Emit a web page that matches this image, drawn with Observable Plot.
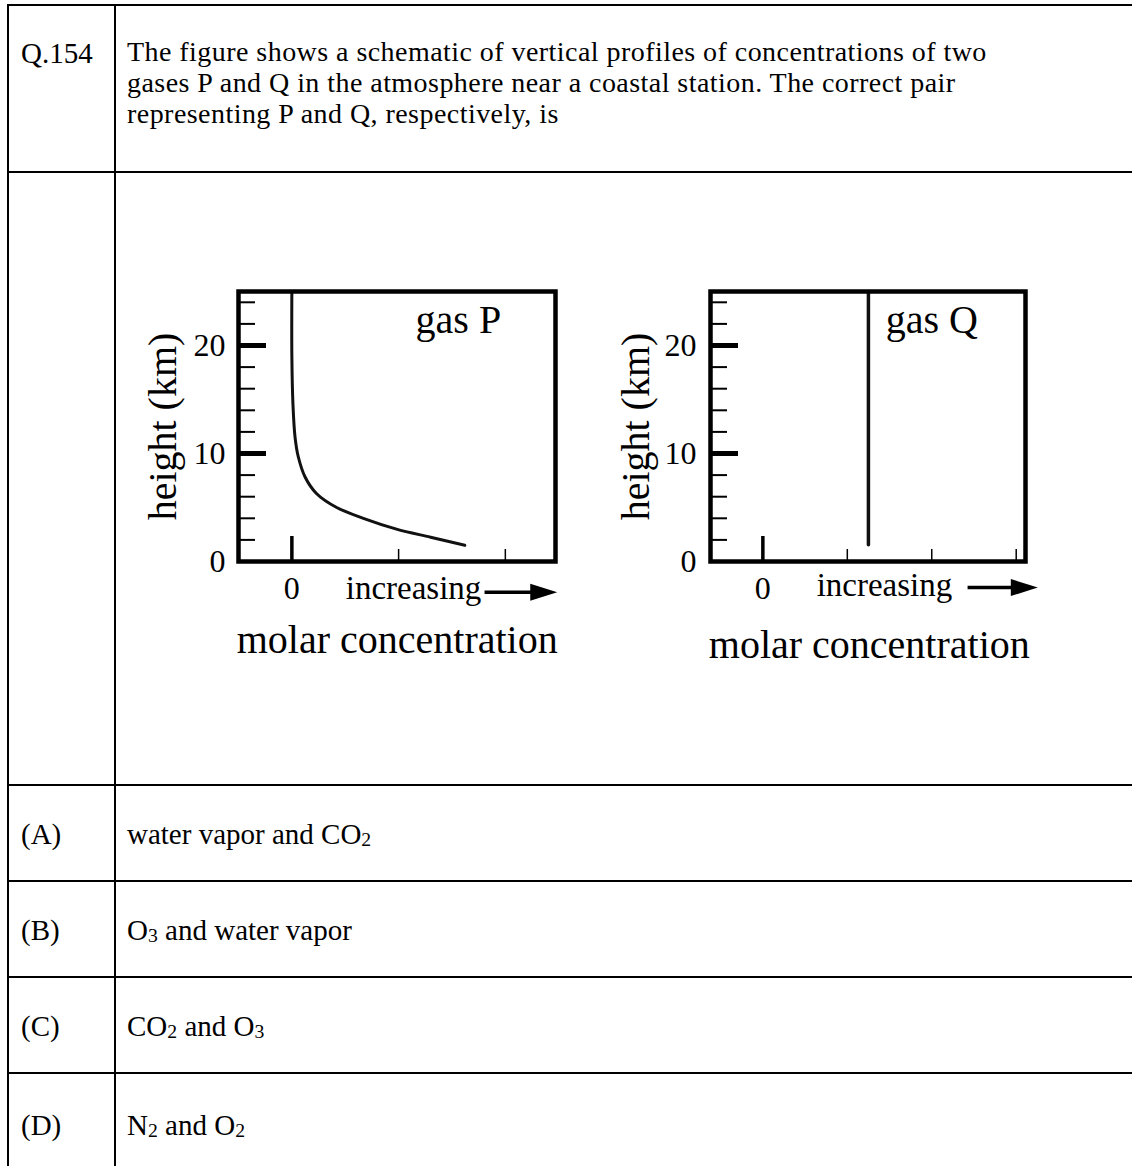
<!DOCTYPE html>
<html><head><meta charset="utf-8">
<script src="https://cdn.jsdelivr.net/npm/d3@7"></script>
<script src="https://cdn.jsdelivr.net/npm/@observablehq/plot@0.6"></script>
<style>
body{margin:0;background:#fff;width:1132px;height:1166px;position:relative;overflow:hidden;font-family:"Liberation Serif","Times New Roman",serif;color:#000}
.h{position:absolute;left:7px;right:0;height:2px;background:#000}
.v{position:absolute;top:4px;bottom:0;width:2px;background:#000}
.t{position:absolute;font-size:29px;line-height:28px;height:28px;white-space:nowrap}
.q{position:absolute;font-size:28px;line-height:31px;height:31px;white-space:nowrap;letter-spacing:0.45px}
sub{font-size:0.68em;vertical-align:-0.12em;line-height:0}
.chart{position:absolute}
</style></head><body>
<div class="h" style="top:4px"></div>
<div class="h" style="top:171px"></div>
<div class="h" style="top:784px"></div>
<div class="h" style="top:880px"></div>
<div class="h" style="top:976px"></div>
<div class="h" style="top:1072px"></div>
<div class="v" style="left:7px"></div>
<div class="v" style="left:114px"></div>

<div class="t" style="left:21px;top:39px">Q.154</div>
<div class="q" style="left:127px;top:36px">The figure shows a schematic of vertical profiles of concentrations of two</div>
<div class="q" style="left:127px;top:67px">gases P and Q in the atmosphere near a coastal station. The correct pair</div>
<div class="q" style="left:127px;top:98px">representing P and Q, respectively, is</div>

<div class="t" style="left:21px;top:820px">(A)</div>
<div class="t" style="left:127px;top:820px">water vapor and CO<sub>2</sub></div>
<div class="t" style="left:21px;top:916px">(B)</div>
<div class="t" style="left:127px;top:916px">O<sub>3</sub> and water vapor</div>
<div class="t" style="left:21px;top:1012px">(C)</div>
<div class="t" style="left:127px;top:1012px">CO<sub>2</sub> and O<sub>3</sub></div>
<div class="t" style="left:21px;top:1111px">(D)</div>
<div class="t" style="left:127px;top:1111px">N<sub>2</sub> and O<sub>2</sub></div>

<div id="chartP" class="chart" style="left:120px;top:270px"></div>
<div id="chartQ" class="chart" style="left:600px;top:270px"></div>

<script>
// ---- data ----
const heightP = [25, 19, 14.6, 11.5, 9.7, 7.8, 6.3, 5.0, 4.0, 3.0, 2.25, 1.5];
const concP   = [0, 0, 0.01, 0.03, 0.06, 0.125, 0.23, 0.42, 0.67, 0.98, 1.30, 1.62];
const heightQ = [25, 1.55];
const concQ   = [1.25, 1.25];

const yLabelTicks = [0, 10, 20];
const yMajorTicks = [10, 20];
const yMinorTicks = [2, 4, 6, 8, 12, 14, 16, 18, 22, 24];
const xZeroTick = [0];
const xMinorTicksP = [1, 2];
const xMinorTicksQ = [1, 2, 3];
const xLabelTicks = [0];
const panelLabels = ["gas P", "gas Q"];
const xAxisTitle = "molar concentration";
const yAxisTitle = "height (km)";
const xDirection = "increasing";

const arrowHead = {draw(ctx) { ctx.moveTo(14, 0); ctx.lineTo(-13, -8.5); ctx.lineTo(-13, 8.5); ctx.closePath(); }};

function makeChart(cfg) {
  const W = 450, H = 400;
  const innerW = W - cfg.marginLeft - cfg.marginRight;
  const innerH = H - cfg.marginTop - cfg.marginBottom;
  return Plot.plot({
    width: W, height: H,
    marginLeft: cfg.marginLeft, marginRight: cfg.marginRight,
    marginTop: cfg.marginTop, marginBottom: cfg.marginBottom,
    x: {domain: cfg.xDomain},
    y: {domain: [0, 25]},
    style: {background: "transparent", fontFamily: "'Liberation Serif', 'Times New Roman', serif", color: "#000", overflow: "visible"},
    marks: [
      Plot.tickY(yMinorTicks, {y: d => d, insetRight: innerW - 17, strokeWidth: 2}),
      Plot.tickY(yMajorTicks, {y: d => d, insetRight: innerW - 28, strokeWidth: 5}),
      Plot.tickX(xZeroTick, {x: d => d, insetTop: innerH - 25, strokeWidth: 3.5}),
      Plot.tickX(cfg.xMinor, {x: d => d, insetTop: innerH - 12, strokeWidth: 1.5}),
      Plot.line(cfg.data, {x: "c", y: "h", curve: "catmull-rom", strokeWidth: cfg.lineWidth, stroke: "#111"}),
      Plot.frame({strokeWidth: 4.5}),
      Plot.axisY({ticks: yLabelTicks, tickFormat: d => String(d), tickSize: 0, tickPadding: cfg.yPad, fontSize: 32, label: null}),
      Plot.axisX({ticks: xLabelTicks, tickFormat: d => String(d), tickSize: 0, tickPadding: 15, fontSize: 32, label: null}),
      Plot.text([cfg.label], {x: cfg.labelX, frameAnchor: "top", dy: 29, text: d => d, fontSize: 40, lineAnchor: "middle"}),
      Plot.text([xDirection], {x: cfg.incX, frameAnchor: "bottom", dy: cfg.incDy, text: d => d, fontSize: 33, lineAnchor: "middle"}),
      Plot.ruleY([cfg.arrowY], {y: d => d, x1: cfg.arrowX1, x2: cfg.arrowX2, strokeWidth: 3.5}),
      Plot.dot([cfg.arrowY], {x: cfg.headX, y: d => d, symbol: arrowHead, fill: "#000", stroke: "none"}),
      Plot.text([xAxisTitle], {x: cfg.titleX, frameAnchor: "bottom", dy: cfg.titleDy, text: d => d, fontSize: 40, lineAnchor: "middle"}),
      Plot.text([yAxisTitle], {frameAnchor: "left", dx: cfg.yTitleDx, rotate: -90, text: d => d, fontSize: 40, textAnchor: "middle", lineAnchor: "middle"})
    ]
  });
}

const dataP = heightP.map((h, i) => ({h, c: concP[i]}));
const dataQ = heightQ.map((h, i) => ({h, c: concQ[i]}));

document.getElementById("chartP").appendChild(makeChart({
  marginLeft: 118, marginRight: 15, marginTop: 21, marginBottom: 109,
  xDomain: [-0.5, 2.47], xMinor: xMinorTicksP, data: dataP, lineWidth: 3,
  yPad: 13, label: panelLabels[0], labelX: 1.56,
  incX: 1.14, incDy: 27, arrowY: -2.84, arrowX1: 1.81, arrowX2: 2.3, headX: 2.355,
  titleX: 0.987, titleDy: 79, yTitleDx: -75
}));

document.getElementById("chartQ").appendChild(makeChart({
  marginLeft: 110, marginRight: 25, marginTop: 21, marginBottom: 109,
  xDomain: [-0.62, 3.11], xMinor: xMinorTicksQ, data: dataQ, lineWidth: 3.5,
  yPad: 14, label: panelLabels[1], labelX: 2.0,
  incX: 1.44, incDy: 24, arrowY: -2.41, arrowX1: 2.43, arrowX2: 3.0, headX: 3.09,
  titleX: 1.26, titleDy: 84, yTitleDx: -74
}));
</script>
</body></html>
